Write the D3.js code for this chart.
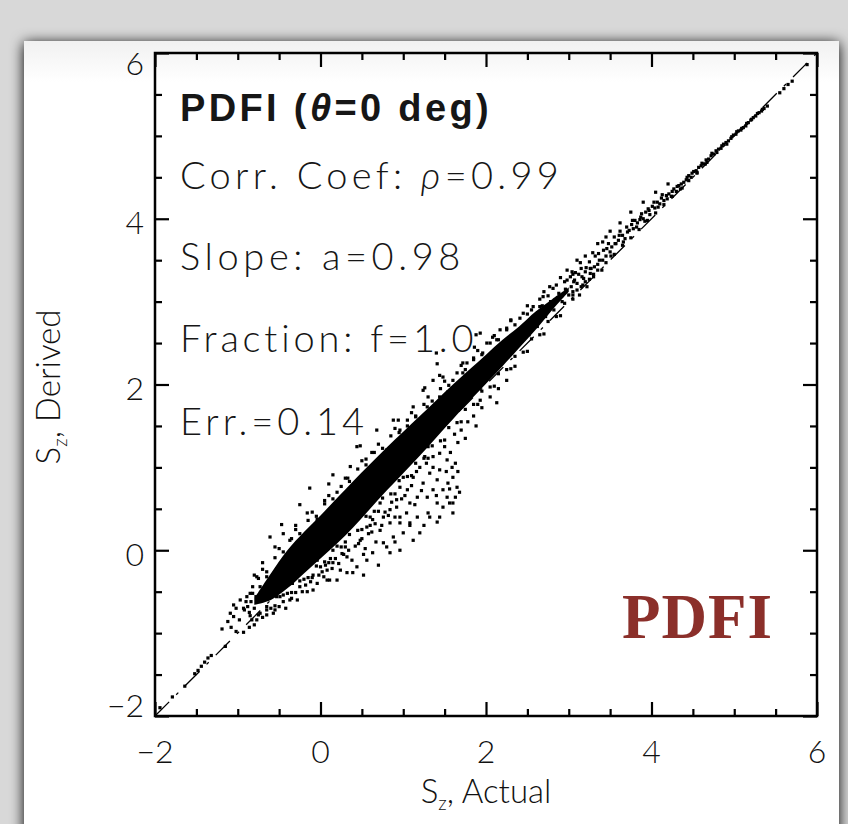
<!DOCTYPE html>
<html>
<head>
<meta charset="utf-8">
<script src="https://cdn.jsdelivr.net/npm/d3@7/dist/d3.min.js"></script>
<style>
  html, body { margin: 0; padding: 0; background: #dcdcdc; }
  svg { display: block; }
</style>
</head>
<body>
<svg id="chart" width="848" height="824"></svg>
<script>
// axis ticks
var majorTicks = [-2, 0, 2, 4, 6]
var minorTicks = [-1.5, -1, -0.5, 0.5, 1, 1.5, 2.5, 3, 3.5, 4.5, 5, 5.5]
var tickLabels = ['\u22122', '0', '2', '4', '6']

// dense ridge of the scatter (S_z actual -> lower / upper S_z derived)
var coreX  = [-0.8, -0.6, -0.4, -0.2, 0, 0.2, 0.4, 0.6, 0.8, 1.0, 1.2, 1.4, 1.6, 1.8, 2.0, 2.2, 2.4, 2.6, 2.8, 3.0]
var coreLo = [-0.66, -0.60, -0.46, -0.28, -0.10, 0.08, 0.28, 0.50, 0.72, 0.93, 1.14, 1.36, 1.58, 1.80, 2.01, 2.22, 2.44, 2.66, 2.90, 3.12]
var coreHi = [-0.58, -0.28, 0.00, 0.22, 0.42, 0.63, 0.84, 1.04, 1.24, 1.43, 1.62, 1.81, 2.00, 2.18, 2.36, 2.54, 2.70, 2.88, 3.03, 3.17]

// individual points [actual, derived]
var lowerTail = [[-1.94,-1.90],[-1.79,-1.77],[-1.64,-1.64],[-1.52,-1.49],[-1.48,-1.45],[-1.44,-1.40],[-1.40,-1.35],
  [-1.36,-1.30],[-1.32,-1.27],[-1.15,-1.16],[-1.19,-0.95],[-1.12,-0.86],[-1.09,-0.76],[-1.02,-0.70],[-0.93,-0.70],
  [-0.86,-0.75],[-0.83,-0.84],[-0.86,-0.93],[-0.93,-0.99],[-1.02,-0.98],[-1.08,-0.93],[-0.98,-0.84],[-1.05,-0.80],
  [-0.77,-0.84],[-0.80,-0.90],[-0.90,-0.62],[-0.97,-0.60],[-1.05,-0.66]]

var belowBand = [[-0.89,-0.56],[-0.82,-0.52],[-0.82,-0.44],[-0.77,-0.32],[-0.73,-0.44],[-0.73,-0.76],[-0.65,-0.72],
  [-0.65,-0.78],[-0.65,-0.32],[-0.57,-0.76],[-0.53,-0.56],[-0.49,-0.56],[-0.49,-0.45],[-0.40,-0.52],[-0.37,-0.60],
  [-0.34,-0.40],[-0.28,-0.60],[-0.25,-0.44],[-0.20,-0.35],[-0.16,-0.50],[-0.09,-0.48],[-0.09,-0.30],[-0.04,-0.40],
  [0.00,-0.20],[0.04,-0.32],[0.08,-0.24],[0.08,-0.36],[0.11,-0.36],[0.15,-0.15],[0.20,-0.36],[0.24,-0.24],[0.28,-0.05],
  [0.32,-0.27],[0.32,-0.08],[0.39,-0.27],[0.42,0.05],[0.44,-0.20],[0.48,0.12],[0.52,-0.05],[0.56,-0.12],[0.58,0.20],
  [0.63,-0.03],[0.63,0.37],[0.67,0.10],[0.72,0.24],[0.76,0.09],[0.80,0.04],[0.82,0.42],[0.84,0.33],[0.84,-0.03],
  [0.88,0.16],[0.90,0.10],[0.92,0.52],[0.96,0.00],[0.96,0.33],[1.00,0.21],[1.04,0.45],[1.08,0.30],[1.12,0.12],
  [1.20,0.21],[1.25,0.30],[1.41,0.34],[1.30,0.45],[0.70,-0.18],[0.52,-0.30],[0.60,0.30],[0.30,0.10],[0.20,0.05],
  [0.12,-0.10],[-0.04,-0.12],[-0.30,-0.30],[-0.45,-0.38],
  [-0.60,-0.70],[-0.55,-0.72],[-0.45,-0.62],[-0.42,-0.70],[-0.35,-0.58],[-0.22,-0.50],[-0.18,-0.42],[-0.12,-0.38],
  [-0.02,-0.30],[0.02,-0.26],[0.06,-0.18],[0.14,-0.22],[0.18,-0.10],[0.22,-0.16],[0.26,-0.04],[0.34,0.00],
  [0.38,-0.12],[0.46,0.08],[0.50,0.14],[0.54,0.02],[0.62,0.22],[0.66,0.32],[0.74,0.30],[0.78,0.46],[0.86,0.58],
  [0.90,0.40],[0.98,0.62],[1.02,0.66],[1.10,0.78],[1.14,0.55]]

var lobe = [[1.30,1.25],[1.36,1.13],[1.44,1.17],[1.53,1.09],[1.59,1.00],[1.60,0.88],[1.65,0.76],[1.63,0.64],
  [1.56,0.57],[1.48,0.52],[1.41,0.57],[1.36,0.73],[1.32,0.93],[1.24,0.81],[1.17,0.64],[1.08,0.57],[1.05,0.73],
  [0.96,0.76],[1.12,0.88],[1.20,1.00],[1.41,0.85],[1.48,0.73],[1.44,0.97],[1.54,0.81],[1.26,1.13],[1.36,1.00],
  [1.29,0.64],[1.53,0.64],[1.60,0.57],[0.84,0.49],[0.92,0.61],[0.76,0.40],[0.72,0.57],[0.60,0.40],[0.56,0.28],
  [0.96,0.40],[1.08,0.33],[1.17,0.40],[1.32,0.40],[1.44,0.40],[1.60,0.45],[1.50,1.25],[1.57,1.18],[1.63,1.05],
  [1.66,0.95],[1.68,0.70],[1.52,0.95],[1.28,1.05],[1.16,0.95],[1.00,0.88],[1.22,0.72],[1.40,0.66],[1.56,0.74],
  [1.70,1.45],[1.78,1.55],[1.85,1.62],[1.75,1.35],[1.88,1.50],[1.95,1.72],[2.05,1.85],[2.15,1.95],[2.25,2.05],
  [2.35,2.22],[1.93,1.81],[2.13,1.78],[1.66,1.30],[1.62,1.40]]

var aboveBand = [[-0.61,0.16],[-0.55,0.04],[-0.47,0.31],[-0.37,0.12],[-0.25,0.55],[-0.16,0.45],[-0.13,0.75],
  [-0.04,0.37],[0.15,0.91],[0.33,0.87],[0.36,1.01],[0.44,1.25],[0.48,1.26],[0.60,0.97],[0.68,1.45],[0.72,1.09],
  [0.80,1.21],[0.88,1.57],[0.94,1.57],[0.96,1.45],[1.12,1.73],[1.24,1.93],[1.26,1.96],[1.29,1.73],[1.36,2.05],
  [1.40,2.38],[1.41,2.25],[1.44,1.85],[1.44,2.11],[1.48,2.09],[1.48,1.81],[1.54,1.91],[1.57,1.93],[1.72,2.14],
  [1.72,2.26],[1.77,2.26],[1.81,2.02],[1.86,2.45],[1.88,2.60],[1.93,2.62],[1.96,2.38],[2.01,2.50],[2.08,2.57],
  [2.13,2.54],[2.17,2.66],[2.17,2.45],[2.25,2.66],[2.41,2.80],[2.57,2.94],[2.65,2.94],[2.69,3.06],[2.77,3.18],
  [2.81,3.16],[2.98,3.26],[2.98,3.38],[3.04,3.36],[3.14,3.47],[3.29,3.59],[3.41,3.72],[-0.80,-0.30],[-0.70,-0.15],
  [-0.30,0.30],[0.05,0.60],[0.20,0.70],[0.55,1.10],[1.05,1.50],[1.15,1.62],[1.60,2.05],[1.85,2.30],[2.30,2.78],
  [2.50,2.85],[0.62,1.18],[0.10,0.80],[-0.45,0.20]]

var ridgeEdge = [[-0.85,-0.52],[-0.75,-0.34],[-0.65,-0.26],[-0.55,-0.09],[-0.45,-0.02],[-0.35,0.14],[-0.25,0.20],
  [-0.15,0.36],[-0.05,0.41],[0.05,0.56],[0.15,0.62],[0.25,0.77],[0.35,0.83],[0.45,0.98],[0.55,1.03],[0.65,1.18],
  [0.75,1.23],[0.85,1.38],[0.95,1.42],[1.05,1.57],[1.15,1.61],[1.25,1.76],[1.35,1.80],[1.45,1.95],[1.55,1.99],
  [1.65,2.14],[1.75,2.18],[1.85,2.32],[1.95,2.36],[2.05,2.50],[2.15,2.54],[2.25,2.68],[2.35,2.72],[2.45,2.86],
  [2.55,2.90],[2.65,3.03],[2.75,3.07],[2.85,3.20],[2.95,3.24],[3.05,3.33],
  [-0.85,-0.79],[-0.75,-0.78],[-0.65,-0.68],[-0.55,-0.67],[-0.45,-0.54],[-0.35,-0.51],[-0.25,-0.37],[-0.15,-0.33],
  [-0.05,-0.19],[0.05,-0.14],[0.15,0.00],[0.25,0.04],[0.35,0.19],[0.45,0.24],[0.55,0.41],[0.65,0.47],[0.75,0.63],
  [0.85,0.68],[0.95,0.84],[1.05,0.89],[1.15,1.05],[1.25,1.11],[1.35,1.26],[1.45,1.32],[1.55,1.48],[1.65,1.54],
  [1.75,1.70],[1.85,1.76],[1.95,1.92],[2.05,1.97],[2.15,2.13],[2.25,2.18],[2.35,2.34],[2.45,2.39],[2.55,2.55],
  [2.65,2.60],[2.75,2.76],[2.85,2.82],[2.95,2.98],[3.05,3.03],
  [-0.70,-0.23],[-0.50,0.02],[-0.30,0.25],[-0.10,0.46],[0.10,0.66],[0.30,0.87],[0.50,1.08],[0.70,1.28],[0.90,1.47],
  [1.10,1.66],[1.30,1.85],[1.50,2.04],[1.70,2.23],[1.90,2.41],[2.10,2.59],[2.30,2.77],[2.50,2.95],[2.70,3.12],
  [2.90,3.29],[-0.70,-0.81],[-0.50,-0.68],[-0.30,-0.51],[-0.10,-0.33],[0.10,-0.15],[0.30,0.04],[0.50,0.25],
  [0.70,0.47],[0.90,0.68],[1.10,0.90],[1.30,1.11],[1.50,1.33],[1.70,1.55],[1.90,1.76],[2.10,1.98],[2.30,2.19],
  [2.50,2.40],[2.70,2.61],[2.90,2.83],
  [2.52,2.60],[2.58,2.80],[2.62,2.70],[2.68,2.95],[2.72,2.82],[2.78,3.00],[2.82,2.90],[2.88,3.10],[2.92,3.00],
  [2.96,3.15],[3.00,3.08],[3.06,3.24],[3.10,3.14],[3.16,3.30],[3.20,3.24],[3.26,3.40],[3.30,3.30],
  [-0.84,-0.62],[-0.88,-0.68],[-0.80,-0.70],[-0.78,-0.56],[-0.74,-0.60],[-0.92,-0.72]]

var upperTail = [[3.02,3.30],[3.05,3.12],[3.08,3.35],[3.10,3.22],[3.13,3.08],[3.15,3.40],[3.18,3.28],[3.20,3.36],
  [3.22,3.18],[3.25,3.48],[3.27,3.40],[3.30,3.33],[3.32,3.55],[3.35,3.45],[3.37,3.50],[3.40,3.38],[3.42,3.62],
  [3.45,3.55],[3.48,3.70],[3.50,3.60],[3.52,3.66],[3.55,3.78],[3.57,3.70],[3.60,3.74],[3.62,3.85],[3.65,3.80],
  [3.68,3.76],[3.70,3.90],[3.73,3.86],[3.76,3.93],[3.78,3.88],[3.80,3.98],[3.83,3.95],[3.86,3.99],[3.88,4.06],
  [3.90,4.00],[3.93,4.08],[3.96,4.12],[3.98,4.05],[4.01,4.15],[4.04,4.13],[4.07,4.20],[4.10,4.18],[4.12,4.25],
  [4.15,4.22],[4.18,4.28],[4.21,4.30],[4.24,4.27],[4.27,4.36],[4.30,4.33],[4.33,4.40],[4.36,4.42],[4.39,4.44],
  [4.42,4.47],[4.45,4.52],[4.48,4.50],[4.51,4.57],[4.54,4.58],[4.57,4.62],[4.60,4.64],[4.63,4.66],[4.66,4.71],
  [4.69,4.72],[4.72,4.76],[4.75,4.78],[4.78,4.82],[4.81,4.84],[4.84,4.85],[4.87,4.90],[4.90,4.92],[4.93,4.94],
  [4.96,4.97],[4.99,5.01],[5.02,5.02],[5.05,5.06],[5.08,5.07],[5.11,5.10],[5.14,5.12],[5.17,5.16],[5.20,5.19],
  [5.23,5.22],[5.26,5.24],[5.30,5.28],[5.33,5.30],[5.36,5.33],[5.40,5.36],[5.55,5.52],[5.60,5.57],[5.65,5.62],
  [5.70,5.66],[5.88,5.86],
  [3.03,3.18],[3.07,3.26],[3.12,3.33],[3.17,3.20],[3.21,3.41],[3.26,3.34],[3.31,3.42],[3.36,3.58],[3.41,3.50],
  [3.46,3.64],[3.51,3.55],[3.56,3.70],[3.61,3.80],[3.66,3.72],[3.71,3.84],[3.77,3.98],[3.82,3.90],[3.87,4.02],
  [3.92,3.97],[3.97,4.10],[4.03,4.20],[4.08,4.14],[4.13,4.29],[4.19,4.24],[4.25,4.33],[4.31,4.39],[4.37,4.37],
  [4.43,4.50],[4.49,4.55],[4.55,4.55],[4.61,4.67],[4.67,4.68],[4.73,4.79],[4.79,4.80],[4.85,4.88],[4.91,4.90],
  [4.97,4.99],[5.03,5.05],[5.09,5.09],[5.15,5.15],[5.21,5.20],[5.28,5.27],[5.34,5.32],
  [3.05,3.08],[3.15,3.18],[3.25,3.27],[3.35,3.38],[3.45,3.47],[3.55,3.57],[3.65,3.68],[3.75,3.77],[3.85,3.87],
  [3.95,3.98],[4.05,4.07],[4.15,4.17],[4.25,4.27],[4.35,4.36],[4.45,4.46],[4.55,4.56],[4.65,4.66],
  [3.20,3.55],[3.35,3.70],[3.50,3.85],[3.62,3.95],[3.75,4.08],[3.90,4.20],[4.05,4.32],[4.20,4.42],[3.10,3.50],
  [3.45,3.78]]

var allPoints = [].concat(lowerTail, belowBand, lobe, aboveBand, ridgeEdge, upperTail)

// annotation text
var titleText = [{t: 'PDFI (', i: false}, {t: '\u03b8', i: true}, {t: '=0 deg)', i: false}]
var statLines = [
  [{t: 'Corr. Coef: ', i: false}, {t: '\u03c1', i: true}, {t: '=0.99', i: false}],
  [{t: 'Slope: a=0.98', i: false}],
  [{t: 'Fraction: f=1.0', i: false}],
  [{t: 'Err.=0.14', i: false}]
]
var statWidths = [383, 285, 298, 188]
var statBaselines = [189, 270, 352, 435]

var W = 848, H = 824
var plot = {left: 155, top: 53, right: 817, bottom: 716}
var sans = 'Lato, "DejaVu Sans", sans-serif'

var svg = d3.select('#chart')
var defs = svg.append('defs')

var shadow = defs.append('filter').attr('id', 'shadow')
  .attr('x', '-10%').attr('y', '-10%').attr('width', '120%').attr('height', '120%')
shadow.append('feGaussianBlur').attr('in', 'SourceAlpha').attr('stdDeviation', 7)
shadow.append('feOffset').attr('dx', 0).attr('dy', 2).attr('result', 'blur')
var merge = shadow.append('feMerge')
merge.append('feMergeNode').attr('in', 'blur')
merge.append('feMergeNode').attr('in', 'SourceGraphic')

var grad = defs.append('linearGradient').attr('id', 'panelGrad')
  .attr('x1', 0).attr('y1', 0).attr('x2', 0).attr('y2', 1)
grad.append('stop').attr('offset', '0%').attr('stop-color', '#f1f1f1')
grad.append('stop').attr('offset', '5%').attr('stop-color', '#ffffff')
grad.append('stop').attr('offset', '100%').attr('stop-color', '#ffffff')

defs.append('clipPath').attr('id', 'plotClip')
  .append('rect')
  .attr('x', plot.left).attr('y', plot.top)
  .attr('width', plot.right - plot.left).attr('height', plot.bottom - plot.top)

// page background + slide panel
svg.append('rect').attr('width', W).attr('height', H).attr('fill', '#d8d8d8')
svg.append('rect')
  .attr('x', 24).attr('y', 41).attr('width', 815).attr('height', 820)
  .attr('fill', 'url(#panelGrad)')
  .attr('filter', 'url(#shadow)')

var x = d3.scaleLinear().domain([-2, 6]).range([plot.left, plot.right])
var y = d3.scaleLinear().domain([-2, 6]).range([plot.bottom, plot.top])

var g = svg.append('g').attr('clip-path', 'url(#plotClip)')

// one-to-one line (under the points)
g.append('line')
  .attr('x1', x(-2)).attr('y1', y(-2))
  .attr('x2', x(6)).attr('y2', y(6))
  .attr('stroke', '#000')
  .attr('stroke-width', 1.3)
  .attr('stroke-dasharray', '20,10,3,10')

// dense ridge
var ridge = coreX.map(function(v, i) { return {x: v, lo: coreLo[i], hi: coreHi[i]} })
var area = d3.area()
  .x(function(d) { return x(d.x) })
  .y0(function(d) { return y(d.lo) })
  .y1(function(d) { return y(d.hi) })
  .curve(d3.curveCatmullRom)
g.append('path').datum(ridge).attr('d', area).attr('fill', '#000')

// scattered points
g.selectAll('rect.pt')
  .data(allPoints)
  .enter()
  .append('rect')
  .attr('class', 'pt')
  .attr('x', function(d) { return x(d[0]) - 1.6 })
  .attr('y', function(d) { return y(d[1]) - 1.6 })
  .attr('width', 3.2)
  .attr('height', 3.2)
  .attr('fill', '#000')

// ticks on all four sides, pointing inward
function drawTicks(axisFn, transform, values, size) {
  var a = axisFn.tickValues(values).tickSize(-size).tickFormat('')
  var ga = svg.append('g').attr('transform', transform).call(a)
  ga.select('.domain').remove()
  ga.selectAll('line').attr('stroke', '#000').attr('stroke-width', 2.2)
}
drawTicks(d3.axisBottom(x), 'translate(0,' + plot.bottom + ')', majorTicks, 14)
drawTicks(d3.axisBottom(x), 'translate(0,' + plot.bottom + ')', minorTicks, 7)
drawTicks(d3.axisTop(x), 'translate(0,' + plot.top + ')', majorTicks, 14)
drawTicks(d3.axisTop(x), 'translate(0,' + plot.top + ')', minorTicks, 7)
drawTicks(d3.axisLeft(y), 'translate(' + plot.left + ',0)', majorTicks, 14)
drawTicks(d3.axisLeft(y), 'translate(' + plot.left + ',0)', minorTicks, 7)
drawTicks(d3.axisRight(y), 'translate(' + plot.right + ',0)', majorTicks, 14)
drawTicks(d3.axisRight(y), 'translate(' + plot.right + ',0)', minorTicks, 7)

// frame
svg.append('rect')
  .attr('x', plot.left).attr('y', plot.top)
  .attr('width', plot.right - plot.left).attr('height', plot.bottom - plot.top)
  .attr('fill', 'none').attr('stroke', '#000').attr('stroke-width', 2.5)

// tick labels
svg.selectAll('text.xlab')
  .data(majorTicks)
  .enter()
  .append('text')
  .attr('class', 'xlab')
  .attr('x', function(d) { return x(d) })
  .attr('y', 763)
  .attr('text-anchor', 'middle')
  .style('font-family', sans).style('font-size', '32px').style('font-weight', 300)
  .attr('fill', '#111')
  .text(function(d, i) { return tickLabels[i] })

svg.selectAll('text.ylab')
  .data(majorTicks)
  .enter()
  .append('text')
  .attr('class', 'ylab')
  .attr('x', 144)
  .attr('y', function(d) {
    var c = Math.max(plot.top + 10, Math.min(plot.bottom - 11, y(d) + 4))
    return c + 11.5
  })
  .attr('text-anchor', 'end')
  .style('font-family', sans).style('font-size', '32px').style('font-weight', 300)
  .attr('fill', '#111')
  .text(function(d, i) { return tickLabels[i] })

// fit a text element to a target width with letter spacing
function fitWidth(node, target) {
  var n = node.textContent.length
  var w = node.getComputedTextLength()
  d3.select(node).style('letter-spacing', ((target - w) / n) + 'px')
}

// axis titles
function subTitle(sel, rest) {
  sel.append('tspan').text('S')
  sel.append('tspan').attr('dy', 7).style('font-size', '19px').text('z')
  sel.append('tspan').attr('dy', -7).text(rest)
}
var xt = svg.append('text')
  .attr('x', 486).attr('y', 803)
  .attr('text-anchor', 'middle')
  .style('font-family', sans).style('font-size', '33px').style('font-weight', 300)
  .attr('fill', '#111')
subTitle(xt, ', Actual')

var yt = svg.append('text')
  .attr('transform', 'translate(60,387) rotate(-90)')
  .attr('text-anchor', 'middle')
  .style('font-family', sans).style('font-size', '33px').style('font-weight', 300)
  .attr('fill', '#111')
subTitle(yt, ', Derived')

function richText(parts, xPos, yPos, weight, family, target) {
  var t = svg.append('text')
    .attr('x', xPos).attr('y', yPos)
    .style('font-family', family).style('font-size', '38px').style('font-weight', weight)
    .attr('fill', '#161616')
  parts.forEach(function(p) {
    var s = t.append('tspan').text(p.t)
    if (p.i) s.style('font-style', 'italic')
  })
  fitWidth(t.node(), target)
  return t
}

richText(titleText, 180, 121, 700, '"Liberation Sans", Arial, sans-serif', 312)
statLines.forEach(function(line, i) {
  richText(line, 180, statBaselines[i], 300, sans, statWidths[i])
})

// method tag
var tag = svg.append('text')
  .attr('x', 622).attr('y', 638)
  .style('font-family', '"Liberation Serif", "DejaVu Serif", serif')
  .style('font-size', '63px').style('font-weight', 700)
  .attr('fill', '#8b2f2a')
  .text('PDFI')
fitWidth(tag.node(), 151)
</script>
</body>
</html>
